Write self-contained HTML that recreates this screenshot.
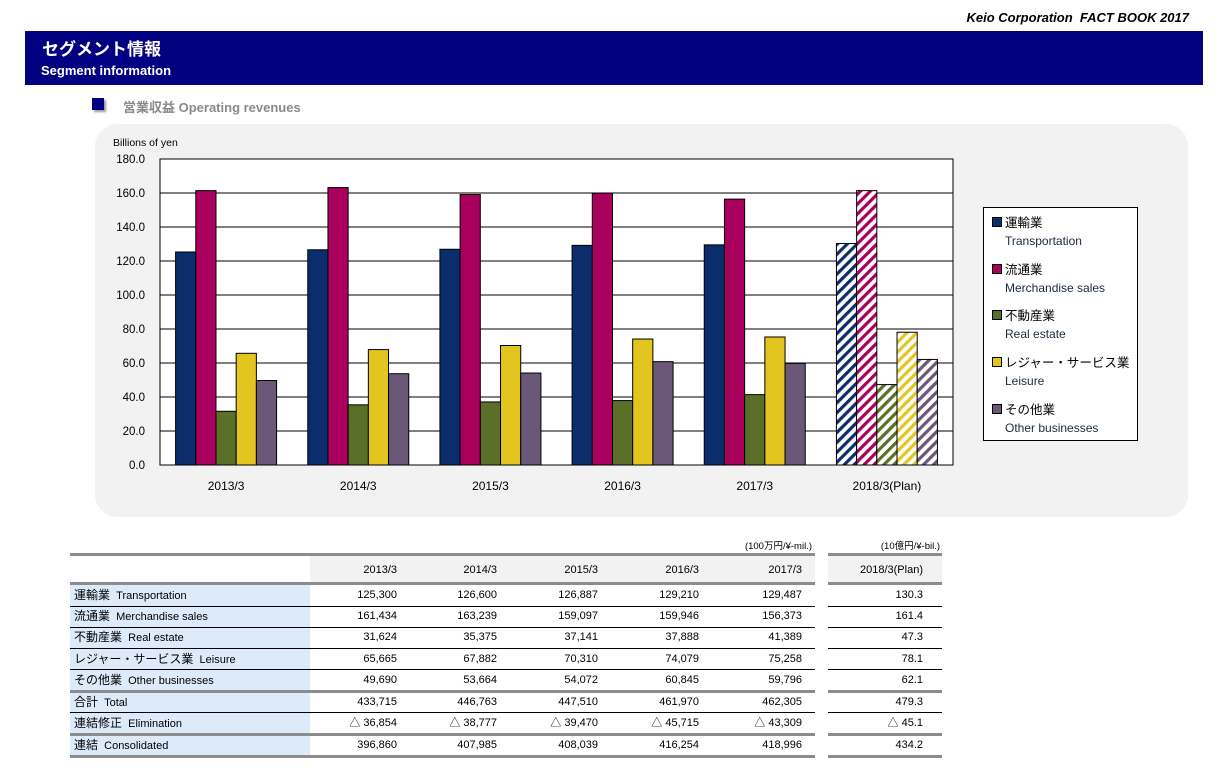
<!DOCTYPE html>
<html><head><meta charset="utf-8"><style>
body{margin:0;width:1227px;height:779px;background:#fff;position:relative;overflow:hidden;font-family:"Liberation Sans","Noto Sans CJK JP",sans-serif}
.a{position:absolute}
.t{font-size:11px;color:#000;white-space:nowrap;line-height:13px}
</style></head><body>
<div class="a" style="right:38px;top:10px;font-size:13px;font-weight:bold;font-style:italic">Keio Corporation&nbsp; FACT BOOK 2017</div>
<div class="a" style="left:25px;top:31px;width:1178px;height:54px;background:#000080;color:#fff">
 <div class="a" style="left:17px;top:4px;font-size:17px;font-weight:bold">セグメント情報</div>
 <div class="a" style="left:16px;top:32px;font-size:13px;font-weight:bold">Segment information</div>
</div>
<div class="a" style="left:92px;top:98px;width:12px;height:12px;background:#000080;box-shadow:2px 2px 2px #999"></div>
<div class="a" style="left:123px;top:97px;font-size:13px;font-weight:bold;color:#8a8a8a">営業収益 Operating revenues</div>
<div class="a" style="left:95px;top:124px;width:1093px;height:393px;background:#f2f2f2;border-radius:22px"></div>
<svg class="a" style="left:0;top:0" width="1227" height="779" id="chart">
<defs>
</defs>
</svg>
<div class="a" style="left:983px;top:207px;width:153px;height:232px;background:#fff;border:1px solid #000" id="legend"></div>
<div id="table"></div>
<script>
const years=["2013/3","2014/3","2015/3","2016/3","2017/3","2018/3(Plan)"];
const transport=[125.3,126.6,126.9,129.2,129.5,130.3];
const merch=[161.4,163.2,159.1,159.9,156.4,161.4];
const realestate=[31.6,35.4,37.1,37.9,41.4,47.3];
const leisure=[65.7,67.9,70.3,74.1,75.3,78.1];
const other=[49.7,53.7,54.1,60.8,59.8,62.1];
const yTicks=[0,20,40,60,80,100,120,140,160,180];
const seriesJp=["運輸業","流通業","不動産業","レジャー・サービス業","その他業"];
const seriesEn=["Transportation","Merchandise sales","Real estate","Leisure","Other businesses"];
const colors=["#0b2d6b","#a8005c","#5a7028","#e3c520","#6b5878"];
const series=[transport,merch,realestate,leisure,other];
const NS="http://www.w3.org/2000/svg";
const svg=document.getElementById('chart');
const X0=160,X1=953,Y0=465,Y1=159,YMAX=180;
const y=v=>Y0-(v/YMAX)*(Y0-Y1);
const gw=(X1-X0)/years.length,bw=20.2;
const gx=i=>X0+i*gw+(gw-5*bw)/2;
function mk(tag,at){const e=document.createElementNS(NS,tag);for(const k in at)e.setAttribute(k,at[k]);svg.appendChild(e);return e;}
const defs=svg.querySelector('defs');
colors.forEach((c,i)=>{const p=document.createElementNS(NS,'pattern');p.setAttribute('id','h'+i);p.setAttribute('width','7');p.setAttribute('height','7');p.setAttribute('patternUnits','userSpaceOnUse');p.setAttribute('patternTransform','rotate(45)');
p.innerHTML='<rect width="7" height="7" fill="#fff"/><rect width="3.2" height="7" fill="'+c+'"/>';defs.appendChild(p);});
let bg=mk('rect',{x:X0,y:Y1,width:X1-X0,height:Y0-Y1,fill:'#fff',stroke:'#000','stroke-width':1});


yTicks.forEach(t=>{
 let l=mk('line',{x1:X0,x2:X1,y1:y(t),y2:y(t),stroke:'#000','stroke-width':1});
 
 
 let tx=mk('text',{x:145,y:y(t)+4,'text-anchor':'end','font-size':11.5,fill:'#000'});
 tx.textContent=t.toFixed(1);
 
 
});
let yt=mk('text',{x:113,y:146,'font-size':10.5,fill:'#000'});yt.textContent='Billions of yen';


years.forEach((yr,i)=>{
 series.forEach((s,j)=>{
  const plan=i===years.length-1;
  let r=mk('rect',{x:gx(i)+j*bw,y:y(s[i]),width:bw,height:Y0-y(s[i]),fill:plan?'url(#h'+j+')':colors[j],stroke:'#000','stroke-width':1});
  
  
 });
 let tx=mk('text',{x:X0+gw*(i+0.5),y:490,'text-anchor':'middle','font-size':12,fill:'#000'});tx.textContent=yr;
 
 
});
const lg=document.getElementById('legend');
seriesJp.forEach((s,j)=>{
 const d=document.createElement('div');d.className='a';
 
 
 d.style.cssText='left:8px;top:'+(7+j*46.7)+'px;font-size:12.5px;line-height:17px;white-space:nowrap';
 d.innerHTML='<span style="display:inline-block;width:8px;height:8px;background:'+colors[j]+';border:1px solid #000;margin-right:3px"></span>'+s+'<div style="margin-left:13px;font-size:12px;color:#1a2a40;margin-top:1px">'+seriesEn[j]+'</div>';
 lg.appendChild(d);
});
// table
const rowLabels=[["運輸業","Transportation"],["流通業","Merchandise sales"],["不動産業","Real estate"],["レジャー・サービス業","Leisure"],["その他業","Other businesses"],["合計","Total"],["連結修正","Elimination"],["連結","Consolidated"]];
const tblYears=["2013/3","2014/3","2015/3","2016/3","2017/3"];
const tbl=[["125,300","126,600","126,887","129,210","129,487"],["161,434","163,239","159,097","159,946","156,373"],["31,624","35,375","37,141","37,888","41,389"],["65,665","67,882","70,310","74,079","75,258"],["49,690","53,664","54,072","60,845","59,796"],["433,715","446,763","447,510","461,970","462,305"],["△ 36,854","△ 38,777","△ 39,470","△ 45,715","△ 43,309"],["396,860","407,985","408,039","416,254","418,996"]];
const planVals=["130.3","161.4","47.3","78.1","62.1","479.3","△ 45.1","434.2"];
const T=document.getElementById('table');
function div(css,txt,name){const d=document.createElement('div');d.className='a t';d.style.cssText=css;if(txt!==undefined)d.textContent=txt;

T.appendChild(d);return d;}
const colX=[310,410,510,611,712,815];
const rowY=[585,606,627,649,670,692,713,735,756];
div('left:310px;top:556px;width:505px;height:26px;background:#f2f2f2','', 'table-header-bg');
div('left:828px;top:556px;width:114px;height:26px;background:#f2f2f2','', 'plan-header-bg');
div('left:70px;top:585px;width:240px;height:171px;background:#ddeafa','', 'row-label-bg');
div('left:720px;top:540px;width:92px;text-align:right;font-size:9.5px','(100万円/¥-mil.)','unit-note-mil');
div('left:840px;top:540px;width:100px;text-align:right;font-size:9.5px','(10億円/¥-bil.)','unit-note-bil');
tblYears.forEach((yr,c)=>div('left:'+colX[c]+'px;top:564px;width:'+(colX[c+1]-colX[c]-13)+'px;text-align:right',yr,'column-header'));
div('left:828px;top:564px;width:95px;text-align:right','2018/3(Plan)','column-header-plan');
rowLabels.forEach((l,r)=>{
 const top=rowY[r]+4;
 const d=div('left:74px;top:'+top+'px',undefined,'row-label');
 d.innerHTML='<span style="font-size:12px;line-height:13px">'+l[0]+'</span>&nbsp; '+l[1];
 tbl[r].forEach((v,c)=>div('left:'+colX[c]+'px;top:'+top+'px;width:'+(colX[c+1]-colX[c]-13)+'px;text-align:right',v,'table-cell'));
 div('left:828px;top:'+top+'px;width:95px;text-align:right',planVals[r],'plan-cell');
});
const thick=[553,582,690,733,755];
[[70,815],[828,942]].forEach(([a,b])=>{
 thick.forEach(yy=>div('left:'+a+'px;top:'+yy+'px;width:'+(b-a)+'px;height:3px;background:#8c8c8c','','table-rule-thick'));
 [606,627,648,669,712].forEach(yy=>div('left:'+a+'px;top:'+yy+'px;width:'+(b-a)+'px;height:1px;background:#000','','table-rule'));
});
</script>
</body></html>
